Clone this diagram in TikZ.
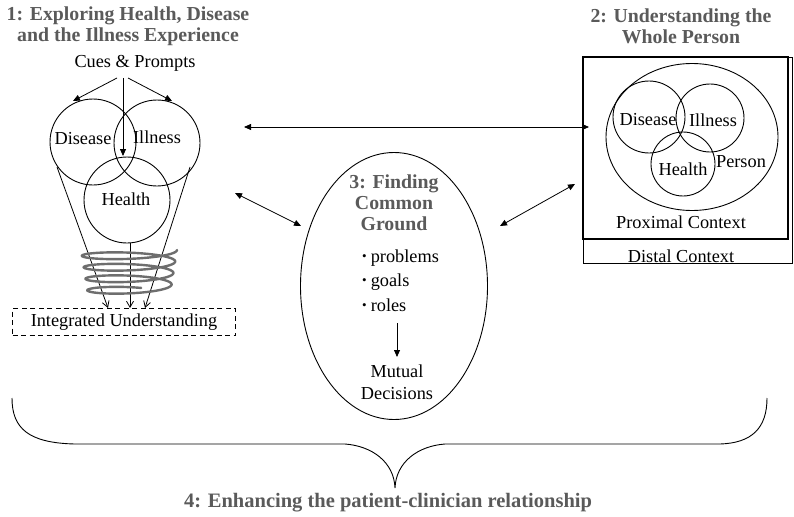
\documentclass[tikz,border=0pt]{standalone}
\usepackage{fontspec}
\setmainfont{Liberation Serif}
\usetikzlibrary{shapes.geometric,arrows.meta}
\definecolor{titlegray}{RGB}{90,90,90}
\definecolor{coilgray}{RGB}{110,110,110}
\newcommand{\mybul}{\raisebox{2pt}{\fontsize{13}{13}\selectfont•}\hspace{4pt}}
\begin{document}
\begin{tikzpicture}[x=1pt,y=-1pt,
  body/.style={font=\fontsize{18.3}{22.5}\selectfont, inner sep=0pt, align=center},
  ttl/.style={font=\fontsize{19.8}{21}\selectfont\bfseries, text=titlegray, inner sep=0pt, align=center},
  ring/.style={circle, draw, line width=0.9pt, inner sep=0pt},
  tri/.style={-{Triangle[length=7pt,width=6pt]}, line width=0.8pt},
  dtri/.style={{Triangle[length=7pt,width=6pt]}-{Triangle[length=7pt,width=6pt]}, line width=0.8pt},
  vee/.style={-{Straight Barb[length=6pt,width=7pt]}, line width=0.8pt}]
\useasboundingbox (0,0) rectangle (794,516);

% ---------- Section 1 ----------
\node[ttl] (t1) at (128,26) {1: Exploring Health, Disease\\and the Illness Experience};
\node[body] (cues) at (135,63) {Cues \& Prompts};
\node[ring, minimum size=86pt] (dis1) at (93,142) {};
\node[ring, minimum size=86pt] (ill1) at (157,143) {};
\node[ring, minimum size=86pt] (hea1) at (127,200) {};
\node[body] (ldis1) at (83,139) {Disease};
\node[body] (lill1) at (157,137) {Illness};
\node[body] (lhea1) at (126,199) {Health};

\coordinate (c0) at (123,78);
\coordinate (cl) at (117,78);
\coordinate (cr) at (128,78);
\coordinate (al) at (73,101);
\coordinate (ar) at (172,101);
\coordinate (am) at (123,156);
\draw[tri] (cl) -- (al);
\draw[tri] (cr) -- (ar);
\draw[tri] (c0) -- (am);

\node[draw, dash pattern=on 5pt off 3.5pt, line width=0.8pt, minimum width=223pt, minimum height=27pt, inner sep=0pt] (iu) at (124,322) {};
\node[body] (liu) at (124,322) {Integrated Understanding};

\coordinate (kl) at (57,167);
\coordinate (kr) at (190,167);
\coordinate (km) at (130,243);
\coordinate (el) at (108,308);
\coordinate (er) at (145,308);
\coordinate (em) at (130,308);
\draw[vee] (kl) -- (el);
\draw[vee] (kr) -- (er);
\draw[vee] (km) -- (em);

\draw[coilgray, line width=2.4pt, line cap=round]
  plot[domain=0:3.8, samples=260, smooth]
  ({129+(48-1.8*\x)*cos(360*\x)}, {250+6*sin(360*\x)+11.5*\x});

% ---------- Section 2 ----------
\node[ttl] (t2) at (681,26) {2: Understanding the\\Whole Person};
\node[draw, line width=0.7pt, minimum width=209pt, minimum height=206pt, inner sep=0pt] (distal) at (687.5,160) {};
\node[draw, line width=1.4pt, minimum width=205pt, minimum height=182pt, inner sep=0pt] (prox) at (685.5,148) {};
\node[ellipse, draw, line width=0.9pt, minimum width=172pt, minimum height=147pt, inner sep=0pt] (person) at (692,137) {};
\node[ring, minimum size=72pt] (dis2) at (649,117) {};
\node[ring, minimum size=68pt] (ill2) at (710,118) {};
\node[ring, minimum size=64pt] (hea2) at (683,164) {};
\node[body] (ldis2) at (648,120) {Disease};
\node[body] (lill2) at (713,120) {Illness};
\node[body] (lhea2) at (683,169) {Health};
\node[body] (lper2) at (741,162) {Person};
\node[body] (lprox) at (681,222) {Proximal Context};
\node[body] (ldist) at (681,256) {Distal Context};

% ---------- Section 3 ----------
\node[ellipse, draw, line width=0.9pt, minimum width=187pt, minimum height=267pt, inner sep=0pt] (cg) at (394,286) {};
\node[ttl] (t3) at (394,203) {3: Finding\\Common\\Ground};
\node[body, anchor=west] (b1) at (362,258) {\mybul problems};
\node[body, anchor=west] (b2) at (362,282) {\mybul goals};
\node[body, anchor=west] (b3) at (362,305) {\mybul roles};
\coordinate (ma) at (397,323);
\coordinate (mb) at (397,357);
\draw[tri] (ma) -- (mb);
\node[body] (mut) at (397,382) {Mutual\\Decisions};

% ---------- connectors between sections ----------
\coordinate (h1) at (244,127);
\coordinate (h2) at (589,127);
\coordinate (d1) at (235,193);
\coordinate (d2) at (301,226);
\coordinate (d3) at (500,226);
\coordinate (d4) at (575,184);
\draw[dtri] (h1) -- (h2);
\draw[dtri] (d1) -- (d2);
\draw[dtri] (d3) -- (d4);

% ---------- Section 4 brace ----------
\draw[line width=0.9pt]
  (12,398) .. controls (12,428) and (28,443) .. (75,444)
  -- (345,444) .. controls (372,446) and (394,462) .. (395,488)
  .. controls (396,462) and (418,446) .. (445,444)
  -- (720,444) .. controls (752,443) and (767,428) .. (767,398);
\node[ttl, font=\fontsize{20.5}{21}\selectfont\bfseries] (t4) at (388,503) {4: Enhancing the patient-clinician relationship};
\end{tikzpicture}
\end{document}
